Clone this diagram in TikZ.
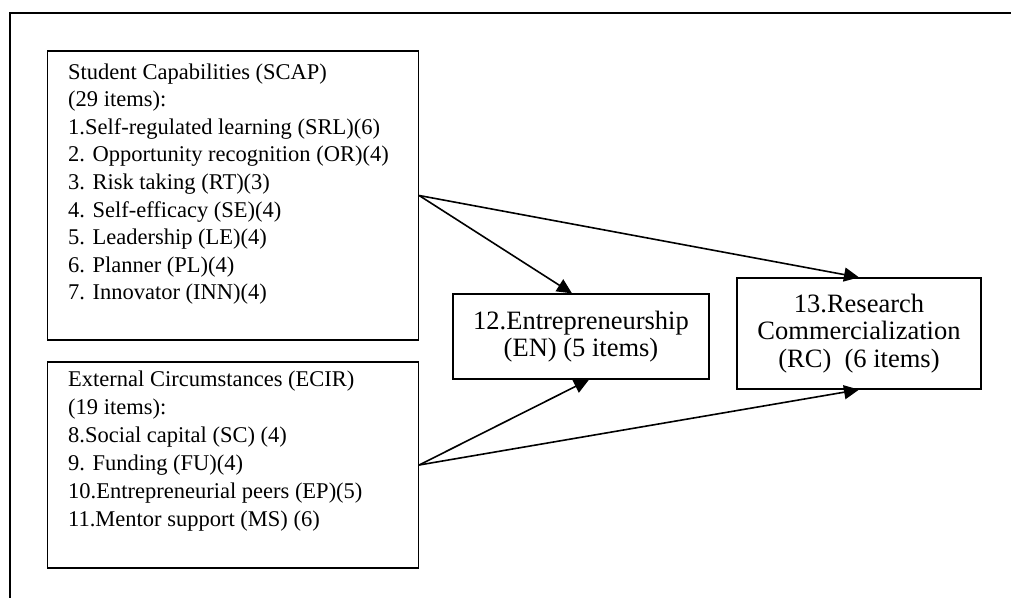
\documentclass[tikz,border=0pt]{standalone}
\usepackage{fontspec}
\setmainfont{Liberation Serif}
\usetikzlibrary{arrows.meta}
\tikzset{
  boxnode/.style={draw=black, line width=1.3pt, rectangle, inner sep=0pt},
  smalltxt/.style={inner sep=0pt, anchor=base west, font=\fontsize{22.5}{27}\selectfont},
  bigtxt/.style={font=\fontsize{26.5}{27.5}\selectfont, align=center},
  link/.style={line width=1.6pt, -{Triangle[length=15pt,width=14pt]}},
}
\begin{document}
\begin{tikzpicture}[x=1pt,y=-1pt]
\useasboundingbox (0,0) rectangle (1011,597);
\clip (0,0) rectangle (1011,597);
\fill[white] (0,0) rectangle (1011,597);
% outer frame (cut off at right and bottom)
\draw[line width=2pt] (1030,13) -- (10,13) -- (10,620);
% left boxes
\node[boxnode, minimum width=371pt, minimum height=289pt] (scap) at (233,195.5) {};
\node[boxnode, minimum width=371pt, minimum height=206pt] (ecir) at (233,465) {};
\foreach \t [count=\i from 0] in {{Student Capabilities (SCAP)},{(29 items):},{1.Self-regulated learning (SRL)(6)},{2. Opportunity recognition (OR)(4)},{3. Risk taking (RT)(3)},{4. Self-efficacy (SE)(4)},{5. Leadership (LE)(4)},{6. Planner (PL)(4)},{7. Innovator (INN)(4)}}
  \node[smalltxt] (sl\i) at (68,{79+27.6*\i}) {\t};
\foreach \t [count=\i from 0] in {{External Circumstances (ECIR)},{(19 items):},{8.Social capital (SC) (4)},{9. Funding (FU)(4)},{10.Entrepreneurial peers (EP)(5)},{11.Mentor support (MS) (6)}}
  \node[smalltxt] (el\i) at (68,{386+28*\i}) {\t};
% right boxes
\node[boxnode, bigtxt, minimum width=256pt, minimum height=85pt] (en) at (581,336.5) {12.Entrepreneurship\\(EN) (5 items)};
\node[boxnode, bigtxt, minimum width=244pt, minimum height=111pt] (rc) at (859,333.5) {13.Research\\Commercialization\\(RC)\ \ (6 items)};
% connectors
\draw[link] (scap.east) -- ([xshift=-9pt]en.north);
\draw[link] (scap.east) -- (rc.north);
\draw[link] (ecir.east) -- ([xshift=8pt]en.south);
\draw[link] (ecir.east) -- (rc.south);
\end{tikzpicture}
\end{document}
